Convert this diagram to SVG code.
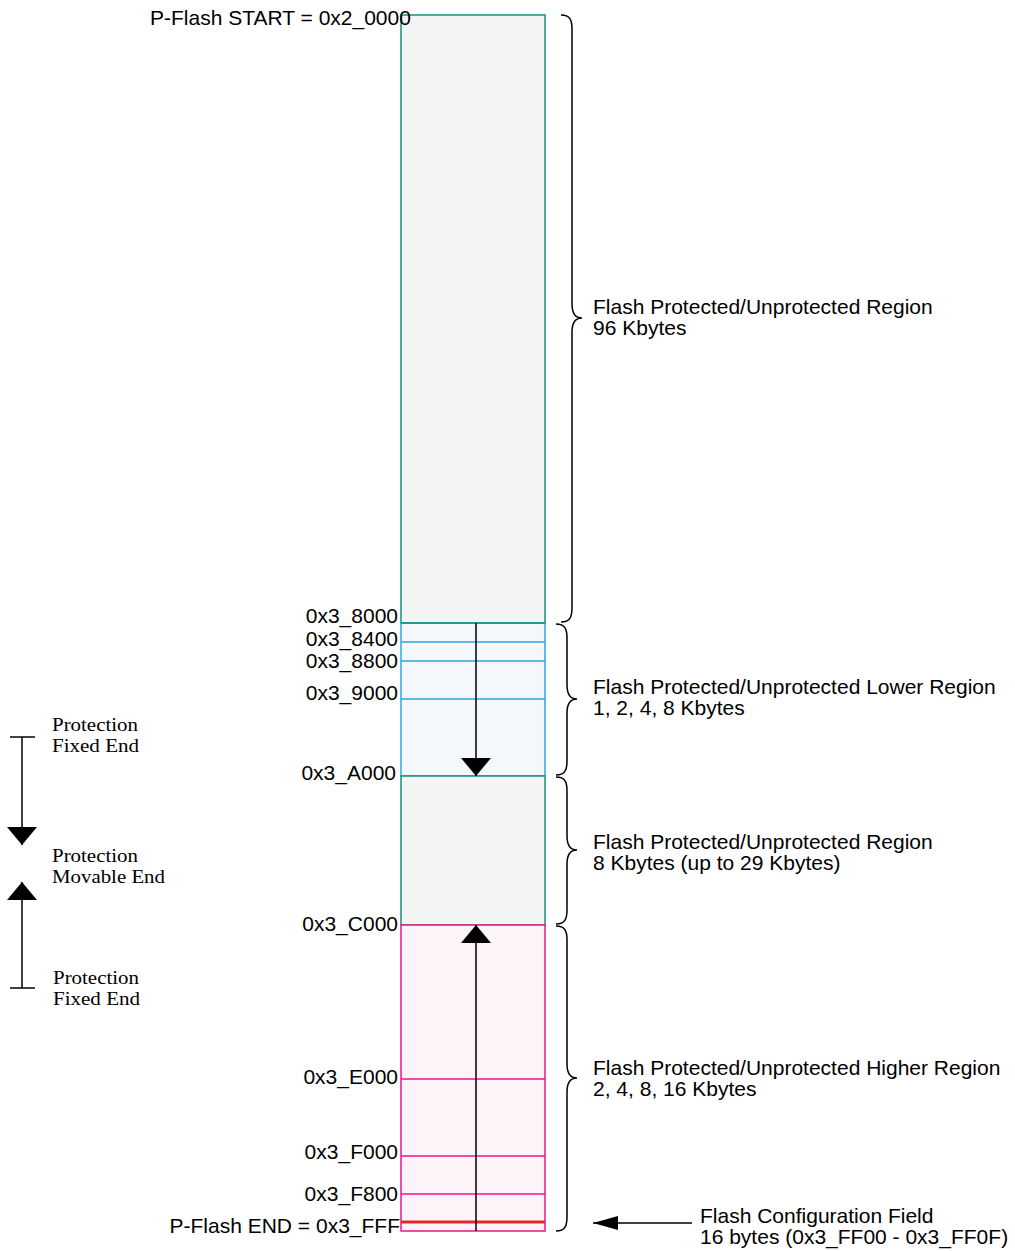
<svg xmlns="http://www.w3.org/2000/svg" width="1015" height="1251" viewBox="0 0 1015 1251">
<style>
.t{font-family:"Liberation Sans",Arial,sans-serif;font-size:21px;fill:#000}
.r{text-anchor:end}
.s{font-family:"Liberation Serif","Times New Roman",serif;font-size:19px;fill:#000}
.teal{stroke:#1b8f7f;stroke-width:1.5}
.blue{stroke:#2ea6df;stroke-width:1.5}
.pink{stroke:#e8178c;stroke-width:1.5}
.brace{fill:none;stroke:#000;stroke-width:1.5}
.ln{stroke:#000;stroke-width:1.5;fill:none}
</style>
<defs>
<marker id="ah" viewBox="0 0 18 30" refX="18" refY="15" markerWidth="18" markerHeight="30" markerUnits="userSpaceOnUse" orient="auto">
<path d="M0,0 L18,15 L0,30 Z" fill="#000"/>
</marker>
<marker id="ahs" viewBox="0 0 25 14" refX="25" refY="7" markerWidth="25" markerHeight="14" markerUnits="userSpaceOnUse" orient="auto">
<path d="M0,0 L25,7 L0,14 Z" fill="#000"/>
</marker>
</defs>

<g id="region-96k">
<rect x="401" y="15" width="144" height="608" fill="#f3f4f4" class="teal"/>
</g>
<g id="region-lower">
<rect x="401" y="623" width="144" height="153" fill="#f4f8fc" class="blue"/>
<line x1="401" y1="642" x2="545" y2="642" class="blue"/>
<line x1="401" y1="661" x2="545" y2="661" class="blue"/>
<line x1="401" y1="699" x2="545" y2="699" class="blue"/>
<line x1="401" y1="623" x2="545" y2="623" class="teal"/>
</g>
<g id="region-8k">
<rect x="401" y="776" width="144" height="149" fill="#f3f4f4" class="teal"/>
</g>
<g id="region-higher">
<rect x="401" y="925" width="144" height="306" fill="#fdf4f9" class="pink"/>
<line x1="401" y1="1079" x2="545" y2="1079" class="pink"/>
<line x1="401" y1="1156" x2="545" y2="1156" class="pink"/>
<line x1="401" y1="1194" x2="545" y2="1194" class="pink"/>
<line x1="401" y1="1222" x2="545" y2="1222" stroke="#e8262a" stroke-width="3"/>
</g>

<g id="address-labels">
<text class="t" x="150" y="25">P-Flash START = 0x2_0000</text>
<text class="t r" x="398" y="623">0x3_8000</text>
<text class="t r" x="398" y="646">0x3_8400</text>
<text class="t r" x="398" y="668">0x3_8800</text>
<text class="t r" x="398" y="700">0x3_9000</text>
<text class="t r" x="396" y="780">0x3_A000</text>
<text class="t r" x="398" y="931">0x3_C000</text>
<text class="t r" x="398" y="1084">0x3_E000</text>
<text class="t r" x="398" y="1159">0x3_F000</text>
<text class="t r" x="398" y="1201">0x3_F800</text>
<text class="t r" x="400" y="1233">P-Flash END = 0x3_FFF</text>
</g>

<g id="connectors">
<line x1="476" y1="623" x2="476" y2="776" class="ln" marker-end="url(#ah)"/>
<line x1="476" y1="1231" x2="476" y2="925" class="ln" marker-end="url(#ah)"/>
<line x1="692" y1="1223" x2="593" y2="1223" class="ln" marker-end="url(#ahs)"/>
<line x1="22" y1="737" x2="22" y2="845" class="ln" marker-end="url(#ah)"/>
<line x1="10" y1="737" x2="35" y2="737" class="ln"/>
<line x1="22" y1="988" x2="22" y2="882" class="ln" marker-end="url(#ah)"/>
<line x1="10" y1="988" x2="35" y2="988" class="ln"/>
</g>

<g id="braces">
<path class="brace" d="M561,15 C570,15 572,20 572,29 L572,304 C572,313 575,318 582,318 C575,318 572,323 572,332 L572,608 C572,617 570,622 561,622"/>
<path class="brace" d="M556,624 C565,624 567,629 567,638 L567,685 C567,694 570,699 577,699 C570,699 567,704 567,713 L567,761 C567,770 565,775 556,775"/>
<path class="brace" d="M556,777 C565,777 567,782 567,791 L567,836 C567,845 570,850 577,850 C570,850 567,855 567,864 L567,910 C567,919 565,924 556,924"/>
<path class="brace" d="M556,926 C565,926 567,931 567,940 L567,1064 C567,1073 570,1078 577,1078 C570,1078 567,1083 567,1092 L567,1217 C567,1226 565,1231 556,1231"/>
</g>

<g id="region-labels">
<text class="t" x="593" y="314">Flash Protected/Unprotected Region</text>
<text class="t" x="593" y="335">96 Kbytes</text>
<text class="t" x="593" y="694">Flash Protected/Unprotected Lower Region</text>
<text class="t" x="593" y="715">1, 2, 4, 8 Kbytes</text>
<text class="t" x="593" y="849">Flash Protected/Unprotected Region</text>
<text class="t" x="593" y="870">8 Kbytes (up to 29 Kbytes)</text>
<text class="t" x="593" y="1075">Flash Protected/Unprotected Higher Region</text>
<text class="t" x="593" y="1096">2, 4, 8, 16 Kbytes</text>
<text class="t" x="700" y="1223">Flash Configuration Field</text>
<text class="t" x="700" y="1244">16 bytes (0x3_FF00 - 0x3_FF0F)</text>
</g>

<g id="protection-labels">
<text class="s" x="52" y="731" textLength="86" lengthAdjust="spacingAndGlyphs">Protection</text>
<text class="s" x="52" y="752" textLength="87" lengthAdjust="spacingAndGlyphs">Fixed End</text>
<text class="s" x="52" y="862" textLength="86" lengthAdjust="spacingAndGlyphs">Protection</text>
<text class="s" x="52" y="883" textLength="113" lengthAdjust="spacingAndGlyphs">Movable End</text>
<text class="s" x="53" y="984" textLength="86" lengthAdjust="spacingAndGlyphs">Protection</text>
<text class="s" x="53" y="1005" textLength="87" lengthAdjust="spacingAndGlyphs">Fixed End</text>
</g>
</svg>
